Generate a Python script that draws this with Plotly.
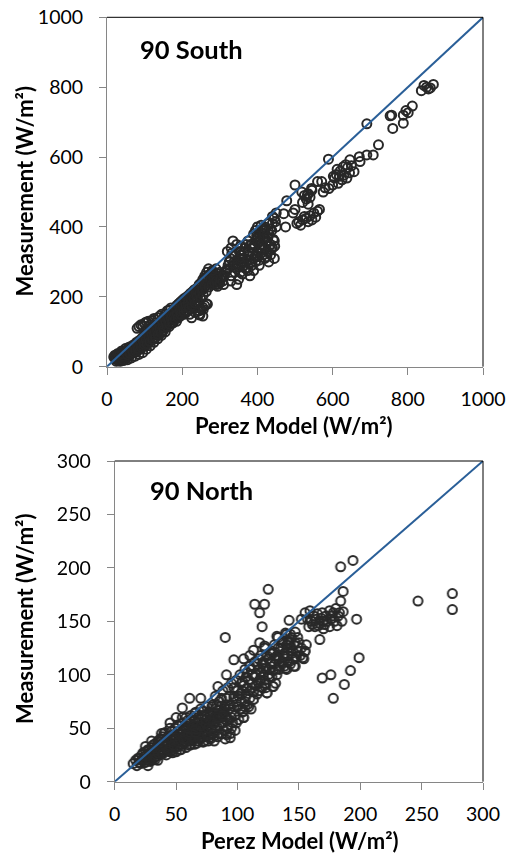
import plotly.graph_objects as go

W, H = 507, 855

# ---------------- 90 South data (Perez model vs measurement, W/m2) ----------------
south_x = [
    20, 22, 25, 28, 30, 32, 35, 38, 40, 42, 45, 48, 50, 52, 55, 58, 60, 62, 65, 68,
    70, 72, 75, 78, 80, 82, 85, 88, 90, 92, 95, 98, 100, 102, 105, 108, 110, 112, 115, 118,
    120, 122, 125, 128, 130, 132, 135, 138, 140, 142, 145, 148, 150, 152, 155, 158, 160, 162, 165, 168,
    170, 172, 175, 178, 180, 182, 185, 188, 190, 192, 195, 198, 200, 203, 205, 208, 210, 212, 215, 218,
    220, 222, 225, 228, 230, 232, 235, 238, 240, 242, 245, 248, 250, 252, 255, 258, 260, 262, 265, 268,
    270, 272, 275, 278, 280, 282, 285, 288, 290, 292, 295, 298,
    25, 30, 35, 40, 45, 50, 55, 60, 65, 70, 75, 80, 85, 90, 95, 100, 105, 110, 115,
    80, 85, 90, 95, 100, 105, 110, 115, 120, 125, 130, 135, 140, 145, 150, 155, 160, 165, 170,
    175, 180, 185, 190, 195, 200, 205, 210, 215, 220, 225, 230, 235, 240, 245, 250, 255, 260, 265,
    255, 245, 235, 225, 215, 205, 195, 185, 175, 165, 155, 145, 135, 125, 115, 105, 95, 85, 75, 65, 55, 45, 35,
    267, 247, 256,
    18, 21, 24, 27, 29, 33, 36, 39, 41, 44, 47, 49, 51, 54, 57, 59, 61, 63, 66, 69,
    71, 73, 76, 79, 81, 83, 86, 89, 91, 93, 96, 99, 101, 104, 106, 109, 111, 114, 116, 119,
    121, 124, 126, 129, 131, 134, 136, 139, 141, 144, 146, 149, 151, 154, 156, 159, 161, 164, 166, 169,
    171, 174, 176, 179, 181, 184, 186, 189, 191, 194, 196, 199, 201, 204, 206, 209, 211, 214, 216, 219,
    221, 224, 226, 229, 231, 234, 236, 239, 241, 244, 246, 249, 251, 254, 256, 259, 261, 264, 266, 269,
    271, 274, 276, 279, 281, 284, 286, 289, 291, 294,
    300, 305, 310, 315, 320, 325, 330, 335, 340, 345, 350, 355, 360, 365, 370, 375, 380, 385, 390, 395,
    400, 405, 410, 415, 420, 425, 430, 435, 440, 445, 330, 340, 350, 360, 370, 380, 390, 345, 330, 320,
    310, 300, 290, 280, 400, 405, 410, 415, 420, 395, 390, 400, 410, 420, 430, 435, 440, 445, 440, 450,
    425, 435, 445, 430, 415, 405, 395, 385, 375, 365, 355, 345, 335, 380, 400, 410, 420, 360,
    302, 308, 312, 318, 322, 328, 332, 338, 342, 348, 352, 358, 362, 368, 372, 378, 382, 388, 392, 398,
    402, 408, 412, 418, 422, 428, 432, 438, 442, 448, 385, 375, 365, 355, 395, 405, 415, 425, 436, 446,
    450, 470, 475, 478, 495, 500, 500, 505, 510, 515, 520, 525, 530, 535, 540, 545, 550, 555, 560, 565,
    518, 525, 530, 535, 540, 520, 545, 535, 533, 544, 560, 571, 575, 580, 589, 590, 600, 602, 605, 610,
    615, 620, 625, 630, 635, 640, 645, 646, 650, 657, 671, 673, 612, 628, 638, 618, 691, 708, 691, 722,
    753, 757, 760, 788, 795, 801, 812, 788, 836, 843, 850, 855, 860, 868,
]
south_y = [
    25, 30, 20, 35, 28, 22, 30, 40, 32, 25, 38, 45, 35, 30, 48, 40, 52, 45, 38, 55,
    48, 60, 50, 42, 65, 58, 70, 62, 50, 75, 68, 80, 72, 60, 85, 78, 90, 70, 95, 85,
    100, 92, 80, 105, 98, 110, 90, 115, 105, 120, 100, 125, 118, 130, 112, 138, 128, 145, 135, 150,
    140, 155, 148, 160, 150, 165, 175, 158, 180, 170, 185, 165, 190, 178, 195, 185, 170, 200, 190, 205,
    180, 210, 195, 215, 200, 220, 210, 185, 225, 215, 235, 220, 240, 230, 250, 225, 260, 245, 270, 255,
    280, 262, 250, 240, 268, 255, 245, 260, 250, 235, 265, 245,
    15, 18, 22, 20, 28, 25, 35, 30, 45, 40, 60, 50, 55, 65, 58, 90, 95, 80, 105,
    110, 115, 120, 118, 125, 128, 130, 120, 132, 138, 125, 140, 145, 150, 140, 150, 160, 162, 168,
    135, 140, 145, 155, 160, 165, 150, 155, 160, 150, 165, 170, 175, 180, 160, 165, 170, 175, 180,
    145, 150, 155, 140, 175, 170, 145, 130, 125, 115, 100, 90, 80, 70, 60, 50, 40, 35, 30, 25, 20, 18, 15,
    179, 148, 164,
    28, 33, 27, 24, 38, 33, 26, 45, 37, 30, 42, 52, 40, 34, 55, 46, 38, 58, 49, 42,
    63, 55, 45, 70, 60, 52, 75, 68, 56, 82, 73, 64, 88, 76, 66, 95, 82, 72, 100, 90,
    78, 108, 95, 84, 115, 102, 92, 122, 110, 96, 130, 112, 105, 135, 125, 115, 142, 130, 122, 152,
    138, 128, 158, 145, 135, 168, 150, 140, 175, 160, 150, 182, 170, 158, 188, 175, 162, 195, 182, 168,
    205, 190, 175, 210, 195, 182, 218, 200, 190, 228, 210, 195, 238, 220, 205, 248, 232, 215, 258, 242,
    228, 265, 250, 235, 272, 255, 240, 262, 245, 230,
    240, 255, 235, 270, 330, 300, 340, 290, 320, 305, 285, 345, 300, 330, 350, 320, 295, 340, 310, 300,
    330, 290, 350, 370, 310, 330, 300, 320, 340, 310, 260, 270, 250, 265, 280, 260, 275, 235, 245, 280,
    260, 270, 280, 275, 370, 380, 385, 395, 400, 390, 380, 400, 405, 390, 380, 395, 410, 425, 430, 400,
    360, 350, 360, 410, 345, 340, 360, 350, 360, 300, 310, 350, 360, 305, 315, 325, 340, 285,
    250, 245, 262, 275, 290, 310, 325, 300, 285, 295, 330, 320, 310, 340, 305, 330, 350, 325, 345, 375,
    355, 365, 335, 380, 395, 370, 345, 390, 365, 415, 290, 275, 290, 270, 320, 305, 320, 315, 335, 345,
    440, 438, 400, 475, 440, 450, 520, 410, 415, 405, 420, 430, 425, 415, 432, 420, 440, 428, 445, 450,
    500, 490, 480, 495, 485, 470, 505, 465, 492, 510, 530, 530, 500, 512, 594, 510, 520, 545, 540, 550,
    525, 560, 535, 548, 578, 570, 555, 592, 575, 558, 601, 587, 565, 572, 540, 545, 606, 606, 695, 635,
    718, 720, 682, 720, 733, 727, 746, 697, 790, 805, 800, 795, 798, 808,
]

# ---------------- 90 North data ----------------
north_x = [
    15, 17, 18, 20, 20, 22, 22, 24, 24, 25, 26, 26, 27, 28, 28, 28, 30, 30, 30, 31,
    32, 32, 33, 34, 34, 35, 35, 36, 36, 37, 38, 38, 39, 40, 40, 40,
    41, 42, 42, 43, 44, 45, 45, 46, 46, 47, 48, 48, 49, 50, 50, 50, 51, 52, 52, 53,
    54, 54, 55, 55, 56, 56, 57, 58, 58, 58, 59, 60, 60, 60, 61, 62, 62, 63, 64, 64,
    65, 65, 66, 66, 67, 68, 68, 69, 70, 70, 70, 71, 72, 72, 73, 74, 74, 75, 75, 76,
    76, 77, 78, 78, 79, 80, 80, 80, 81, 82, 82, 83, 84, 84, 85, 85, 86, 87, 88, 88,
    89, 90, 90, 91, 92, 92, 93, 94, 94, 95, 95, 96, 97, 98, 98, 99,
    100, 100, 101, 102, 103, 104, 105, 105, 106, 107, 108, 109, 110, 110, 111, 112, 113, 114, 115, 116,
    117, 118, 119, 120, 120, 121, 122, 123, 124, 125, 126, 127, 128, 129, 130, 130, 131, 132, 133, 134,
    135, 136, 137, 138, 139, 140, 140, 141, 142, 143, 144, 145, 146, 147, 148, 150, 152, 153, 155,
    38, 55, 61, 70, 84, 91, 97, 113, 122, 132, 139, 105, 110, 118, 45, 50, 30, 25,
    19, 21, 23, 23, 25, 25, 27, 27, 29, 29, 31, 31, 33, 33, 35, 35, 37, 37, 39, 39,
    41, 41, 43, 43, 45, 45, 47, 47, 49, 49, 51, 51, 53, 53, 55, 55, 57, 57, 59, 59,
    61, 61, 63, 63, 65, 65, 67, 67, 69, 69, 71, 71, 73, 73, 75, 75, 77, 77, 79, 79,
    81, 81, 83, 83, 85, 85, 87, 87, 89, 89, 91, 91, 93, 93, 95, 95, 97, 97, 99, 99,
    101, 102, 103, 104, 106, 107, 108, 109, 111, 112, 113, 114, 116, 117, 118, 119, 121, 122, 123, 124,
    126, 127, 128, 129, 131, 132, 133, 134, 136, 137, 138, 141, 142, 143, 144, 146, 147, 149, 151, 156,
    44, 48, 52, 56, 60, 64, 68, 72, 76, 80, 84, 88, 62, 66, 70, 74, 78, 82, 86, 90,
    102, 104, 106, 108, 110, 112, 115, 117, 119, 121, 123, 125, 127, 129, 131, 133, 135, 137, 139, 141,
    143, 145, 147, 149, 60, 62, 64, 66, 68, 70, 72, 74, 76, 78, 80, 82, 84, 86, 88, 90,
    155, 158, 160, 162, 163, 165, 167, 170, 170, 172, 175, 175, 178, 180, 182, 185,
    157, 161, 164, 166, 168, 171, 173, 176, 179, 181, 183, 177, 169, 159,
    142, 152, 167, 154, 155, 147, 140, 124, 129, 113, 105, 105, 97, 94,
    194, 184, 125, 114, 122, 118, 120, 90, 247, 275, 275, 186, 184, 197, 186,
    199, 192, 169, 176, 187, 178,
]
north_y = [
    17, 20, 15, 22, 18, 25, 20, 18, 23, 28, 20, 25, 15, 30, 22, 26, 20, 25, 32, 28,
    22, 35, 27, 30, 24, 38, 20, 33, 27, 25, 30, 40, 35, 28, 45, 33,
    38, 30, 25, 42, 35, 28, 40, 47, 32, 38, 30, 44, 50, 36, 42, 28, 47, 33, 52, 40,
    45, 30, 55, 35, 48, 38, 42, 60, 32, 50, 45, 38, 55, 42, 48, 35, 62, 52, 40, 45,
    58, 35, 50, 65, 43, 38, 55, 47, 60, 40, 68, 52, 45, 37, 62, 50, 42, 70, 55, 38,
    47, 65, 58, 40, 50, 72, 45, 62, 38, 55, 80, 48, 67, 42, 75, 52, 60, 45, 85, 55,
    70, 40, 62, 78, 50, 88, 58, 45, 72, 65, 92, 55, 80, 48, 62, 95,
    70, 85, 58, 100, 75, 65, 90, 60, 105, 80, 72, 95, 85, 108, 68, 100, 77, 112, 90, 82,
    105, 95, 118, 88, 110, 100, 125, 92, 83, 115, 105, 120, 98, 89, 128, 110, 92, 118, 135, 105,
    125, 112, 132, 120, 106, 128, 138, 118, 130, 110, 135, 122, 108, 140, 117, 130, 125, 116, 122,
    45, 69, 78, 78, 89, 100, 114, 123, 127, 136, 139, 115, 118, 130, 55, 60, 38, 33,
    22, 17, 27, 21, 18, 24, 30, 22, 26, 19, 34, 24, 31, 21, 27, 34, 40, 30, 26, 42,
    33, 46, 29, 36, 50, 33, 43, 27, 39, 32, 53, 37, 45, 30, 42, 60, 36, 51, 40, 57,
    44, 34, 48, 38, 42, 64, 55, 36, 50, 40, 45, 62, 38, 53, 45, 62, 41, 55, 48, 70,
    58, 43, 52, 72, 45, 62, 55, 78, 48, 65, 58, 44, 68, 80, 50, 60, 70, 88, 55, 75,
    80, 68, 92, 85, 75, 98, 88, 70, 105, 92, 84, 98, 110, 92, 85, 102, 112, 95, 106, 118,
    98, 110, 122, 104, 115, 100, 125, 115, 130, 118, 108, 125, 112, 138, 120, 128, 115, 135, 118, 128,
    30, 34, 37, 40, 44, 47, 50, 53, 56, 58, 62, 66, 46, 49, 52, 55, 58, 61, 64, 68,
    82, 94, 70, 102, 78, 88, 100, 115, 95, 106, 88, 100, 112, 120, 105, 118, 108, 125, 115, 132,
    125, 115, 130, 122, 50, 58, 52, 46, 60, 52, 66, 58, 50, 64, 55, 68, 60, 70, 62, 72,
    158, 145, 150, 155, 145, 157, 148, 150, 143, 155, 160, 145, 158, 162, 155, 150,
    152, 147, 152, 146, 153, 147, 150, 152, 150, 146, 158, 155, 158, 160,
    151, 152, 133, 115, 122, 108, 105, 83, 89, 77, 60, 66, 78, 41,
    207, 201, 180, 166, 166, 158, 145, 135, 169, 176, 161, 178, 169, 152, 159,
    116, 104, 97, 100, 91, 78,
]

south_ticks = [0, 200, 400, 600, 800, 1000]
north_ticks = [0, 50, 100, 150, 200, 250, 300]
south_line = [0, 1000]
north_line = [0, 300]

FONT = "Lato"
TICK_FONT = dict(family=FONT, size=19.5, color="#000000")
MARKER = dict(symbol="circle-open", size=9, color="#111111",
              line=dict(width=2, color="#111111"))
LINE_COLOR = "#2A5F98"
AXIS_GRAY = "#868686"

fig = go.Figure()
fig.add_trace(go.Scatter(x=south_x, y=south_y, mode="markers", marker=MARKER,
                         opacity=0.9, xaxis="x", yaxis="y", showlegend=False))
fig.add_trace(go.Scatter(x=south_line, y=south_line, mode="lines",
                         line=dict(color=LINE_COLOR, width=2), xaxis="x", yaxis="y",
                         showlegend=False))
fig.add_trace(go.Scatter(x=north_x, y=north_y, mode="markers", marker=MARKER,
                         opacity=0.9, xaxis="x2", yaxis="y2", showlegend=False))
fig.add_trace(go.Scatter(x=north_line, y=north_line, mode="lines",
                         line=dict(color=LINE_COLOR, width=2), xaxis="x2", yaxis="y2",
                         showlegend=False))


def ax(dom, rng, ticks, anchor):
    return dict(domain=dom, range=rng, tickvals=ticks, ticktext=[str(t) for t in ticks],
                showgrid=False, zeroline=False, showline=True, linecolor=AXIS_GRAY,
                linewidth=1, ticks="outside", ticklen=7, tickcolor=AXIS_GRAY,
                tickfont=TICK_FONT, anchor=anchor, fixedrange=True, automargin=False)


xa1 = ax([107 / W, 483 / W], [0, 1000], south_ticks, "y")
ya1 = ax([1 - 366.7 / H, 1 - 17.3 / H], [0, 1000], south_ticks, "x")
xa2 = ax([114.7 / W, 483 / W], [0, 300], north_ticks, "y2")
ya2 = ax([1 - 781.7 / H, 1 - 461 / H], [0, 300], north_ticks, "x2")
for a in (xa1, xa2):
    a["ticklabelstandoff"] = 8
for a in (ya1, ya2):
    a["ticklabelstandoff"] = 12

LABEL_FONT = dict(family=FONT, size=22, color="#000000")
PANEL_FONT = dict(family=FONT, size=25.5, color="#000000")
annotations = [
    dict(text="<b>90 South</b>", x=138 / W, y=1 - 49 / H, xref="paper", yref="paper",
         xanchor="left", yanchor="middle", showarrow=False, font=PANEL_FONT),
    dict(text="<b>90 North</b>", x=148 / W, y=1 - 490 / H, xref="paper", yref="paper",
         xanchor="left", yanchor="middle", showarrow=False, font=PANEL_FONT),
    dict(text="<b>Perez Model (W/m²)</b>", x=294 / W, y=1 - 425.5 / H, xref="paper",
         yref="paper", xanchor="center", yanchor="middle", showarrow=False, font=LABEL_FONT),
    dict(text="<b>Perez Model (W/m²)</b>", x=299.5 / W, y=1 - 840 / H, xref="paper",
         yref="paper", xanchor="center", yanchor="middle", showarrow=False, font=LABEL_FONT),
    dict(text="<b>Measurement (W/m²)</b>", x=24 / W, y=1 - 191.5 / H, xref="paper",
         yref="paper", xanchor="center", yanchor="middle", showarrow=False, textangle=-90,
         font=LABEL_FONT),
    dict(text="<b>Measurement (W/m²)</b>", x=24 / W, y=1 - 619 / H, xref="paper",
         yref="paper", xanchor="center", yanchor="middle", showarrow=False, textangle=-90,
         font=LABEL_FONT),
]

shapes = []
for xr, yr in (("x domain", "y domain"), ("x2 domain", "y2 domain")):
    shapes.append(dict(type="line", xref=xr, yref=yr, x0=0, x1=1, y0=1, y1=1,
                       line=dict(color="#000000", width=1)))
    shapes.append(dict(type="line", xref=xr, yref=yr, x0=1, x1=1, y0=0, y1=1,
                       line=dict(color="#000000", width=1)))

fig.update_layout(
    width=W, height=H, margin=dict(l=0, r=0, t=0, b=0, pad=0, autoexpand=False),
    paper_bgcolor="#ffffff", plot_bgcolor="#ffffff",
    xaxis=xa1, yaxis=ya1, xaxis2=xa2, yaxis2=ya2,
    annotations=annotations, shapes=shapes, showlegend=False,
)

assert len(south_x) == len(south_y), (len(south_x), len(south_y))
assert len(north_x) == len(north_y), (len(north_x), len(north_y))
fig.write_html("out.html", config={"displayModeBar": False},
               post_script="document.body.style.margin='0';document.body.style.overflow='hidden';")
